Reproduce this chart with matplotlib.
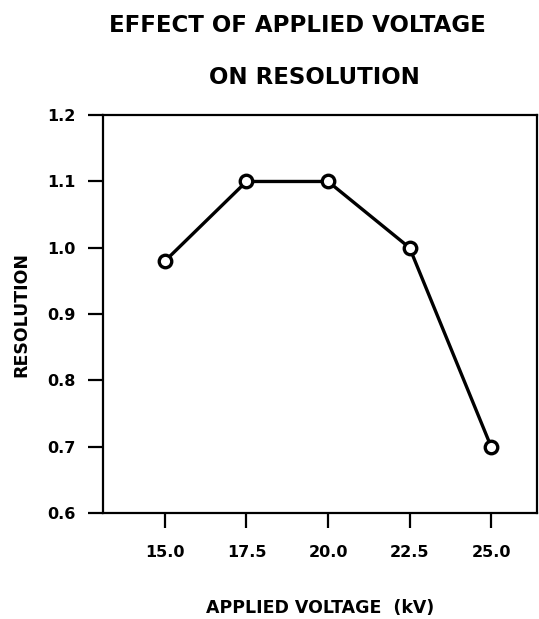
import matplotlib.pyplot as plt

plt.rcParams['font.family'] = 'DejaVu Sans'
plt.rcParams['font.weight'] = 'bold'

voltage = [15.0, 17.5, 20.0, 22.5, 25.0]
resolution = [0.98, 1.10, 1.10, 1.00, 0.70]
xticks = [15.0, 17.5, 20.0, 22.5, 25.0]
yticks = [0.6, 0.7, 0.8, 0.9, 1.0, 1.1, 1.2]

fig = plt.figure(figsize=(5.39, 6.19), dpi=100)
ax = fig.add_axes([0.191, 0.171, 0.805, 0.643])

ax.plot(voltage, resolution, color='black', lw=2.4,
        marker='o', ms=9, mfc='white', mec='black', mew=2.4)

ax.set_xlim(13.1, 26.4)
ax.set_ylim(0.6, 1.2)
ax.set_xticks(xticks)
ax.set_xticklabels(['{:.1f}'.format(v) for v in xticks])
ax.set_yticks(yticks)
ax.set_yticklabels(['{:.1f}'.format(v) for v in yticks])

ax.tick_params(axis='both', direction='out', length=11, width=1.6,
               labelsize=11.5, colors='black')
ax.tick_params(axis='x', pad=12)
ax.tick_params(axis='y', pad=9)
for s in ax.spines.values():
    s.set_linewidth(1.6)

ax.set_xlabel('APPLIED VOLTAGE  (kV)', fontsize=12.5, fontweight='bold',
              labelpad=28)
ax.set_ylabel('RESOLUTION', fontsize=12.5, fontweight='bold', labelpad=12)

fig.text(0.551, 1 - 25 / 619, 'EFFECT OF APPLIED VOLTAGE', ha='center',
         va='center', fontsize=16.5, fontweight='bold')
fig.text(0.583, 1 - 77 / 619, 'ON RESOLUTION', ha='center', va='center',
         fontsize=16.5, fontweight='bold')

fig.savefig('out.png', dpi=100)
